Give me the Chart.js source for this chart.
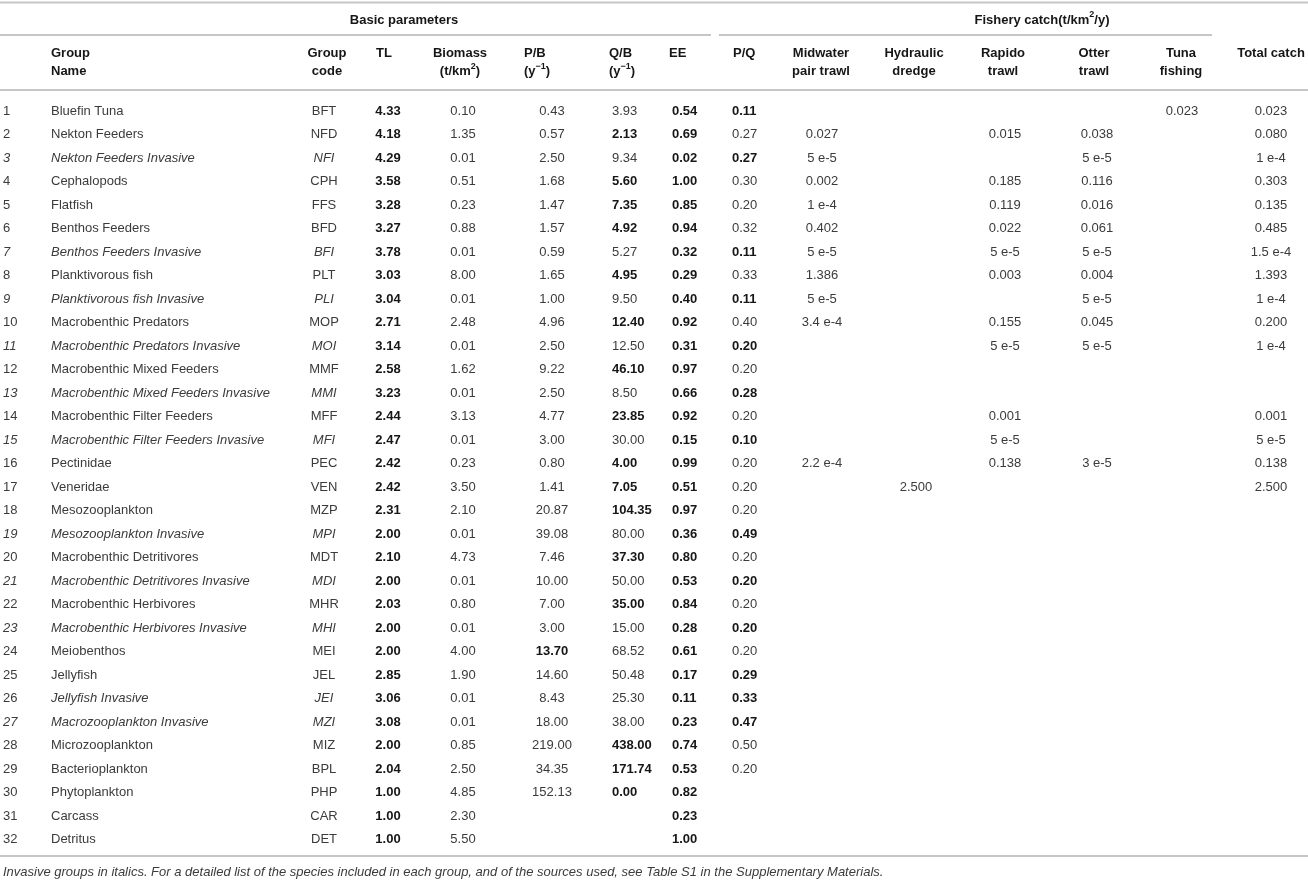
<!DOCTYPE html>
<html>
<head>
<meta charset="utf-8">
<script src="https://cdn.jsdelivr.net/npm/chart.js@4.4.1/dist/chart.umd.min.js"></script>
<style>
  html, body { margin: 0; padding: 0; background: #fff; }
  #wrap { width: 1308px; height: 882px; }
</style>
</head>
<body>
<div id="wrap"><canvas id="chart" width="1308" height="882"></canvas></div>
<script>
// ---- table data ----
const groupNames = [
  'Bluefin Tuna', 'Nekton Feeders', 'Nekton Feeders Invasive', 'Cephalopods', 'Flatfish',
  'Benthos Feeders', 'Benthos Feeders Invasive', 'Planktivorous fish', 'Planktivorous fish Invasive',
  'Macrobenthic Predators', 'Macrobenthic Predators Invasive', 'Macrobenthic Mixed Feeders',
  'Macrobenthic Mixed Feeders Invasive', 'Macrobenthic Filter Feeders', 'Macrobenthic Filter Feeders Invasive',
  'Pectinidae', 'Veneridae', 'Mesozooplankton', 'Mesozooplankton Invasive', 'Macrobenthic Detritivores',
  'Macrobenthic Detritivores Invasive', 'Macrobenthic Herbivores', 'Macrobenthic Herbivores Invasive',
  'Meiobenthos', 'Jellyfish', 'Jellyfish Invasive', 'Macrozooplankton Invasive', 'Microzooplankton',
  'Bacterioplankton', 'Phytoplankton', 'Carcass', 'Detritus'
];
const groupCodes = ['BFT', 'NFD', 'NFI', 'CPH', 'FFS', 'BFD', 'BFI', 'PLT', 'PLI', 'MOP', 'MOI', 'MMF',
  'MMI', 'MFF', 'MFI', 'PEC', 'VEN', 'MZP', 'MPI', 'MDT', 'MDI', 'MHR', 'MHI', 'MEI', 'JEL', 'JEI', 'MZI',
  'MIZ', 'BPL', 'PHP', 'CAR', 'DET'];
// group numbers of the invasive groups (set in italics)
const invasiveGroups = [3, 7, 9, 11, 13, 15, 19, 21, 23, 26, 27];

const trophicLevel = ['4.33', '4.18', '4.29', '3.58', '3.28', '3.27', '3.78', '3.03', '3.04', '2.71', '3.14',
  '2.58', '3.23', '2.44', '2.47', '2.42', '2.42', '2.31', '2.00', '2.10', '2.00', '2.03', '2.00', '2.00',
  '2.85', '3.06', '3.08', '2.00', '2.04', '1.00', '1.00', '1.00'];
const biomass = ['0.10', '1.35', '0.01', '0.51', '0.23', '0.88', '0.01', '8.00', '0.01', '2.48', '0.01',
  '1.62', '0.01', '3.13', '0.01', '0.23', '3.50', '2.10', '0.01', '4.73', '0.01', '0.80', '0.01', '4.00',
  '1.90', '0.01', '0.01', '0.85', '2.50', '4.85', '2.30', '5.50'];
const prodBiomass = ['0.43', '0.57', '2.50', '1.68', '1.47', '1.57', '0.59', '1.65', '1.00', '4.96', '2.50',
  '9.22', '2.50', '4.77', '3.00', '0.80', '1.41', '20.87', '39.08', '7.46', '10.00', '7.00', '3.00', '13.70',
  '14.60', '8.43', '18.00', '219.00', '34.35', '152.13', '', ''];
const consBiomass = ['3.93', '2.13', '9.34', '5.60', '7.35', '4.92', '5.27', '4.95', '9.50', '12.40', '12.50',
  '46.10', '8.50', '23.85', '30.00', '4.00', '7.05', '104.35', '80.00', '37.30', '50.00', '35.00', '15.00',
  '68.52', '50.48', '25.30', '38.00', '438.00', '171.74', '0.00', '', ''];
const ecotrophicEff = ['0.54', '0.69', '0.02', '1.00', '0.85', '0.94', '0.32', '0.29', '0.40', '0.92', '0.31',
  '0.97', '0.66', '0.92', '0.15', '0.99', '0.51', '0.97', '0.36', '0.80', '0.53', '0.84', '0.28', '0.61',
  '0.17', '0.11', '0.23', '0.74', '0.53', '0.82', '0.23', '1.00'];
const prodCons = ['0.11', '0.27', '0.27', '0.30', '0.20', '0.32', '0.11', '0.33', '0.11', '0.40', '0.20',
  '0.20', '0.28', '0.20', '0.10', '0.20', '0.20', '0.20', '0.49', '0.20', '0.20', '0.20', '0.20', '0.20',
  '0.29', '0.33', '0.47', '0.50', '0.20', '', '', ''];
// group numbers whose value was estimated by the model (printed bold)
const pbEstimated = [24];
const qbEstimated = [2, 4, 5, 6, 8, 10, 12, 14, 16, 17, 18, 20, 22, 28, 29, 30];
const pqEstimated = [1, 3, 7, 9, 11, 13, 15, 19, 21, 23, 25, 26, 27];

// fishery catch (t/km2/y), one entry per group
const midwaterTrawl = ['', '0.027', '5 e-5', '0.002', '1 e-4', '0.402', '5 e-5', '1.386', '5 e-5', '3.4 e-4',
  '', '', '', '', '', '2.2 e-4', '', '', '', '', '', '', '', '', '', '', '', '', '', '', '', ''];
const hydraulicDredge = ['', '', '', '', '', '', '', '', '', '', '', '', '', '', '', '', '2.500',
  '', '', '', '', '', '', '', '', '', '', '', '', '', '', ''];
const rapidoTrawl = ['', '0.015', '', '0.185', '0.119', '0.022', '5 e-5', '0.003', '', '0.155', '5 e-5',
  '', '', '0.001', '5 e-5', '0.138', '', '', '', '', '', '', '', '', '', '', '', '', '', '', '', ''];
const otterTrawl = ['', '0.038', '5 e-5', '0.116', '0.016', '0.061', '5 e-5', '0.004', '5 e-5', '0.045',
  '5 e-5', '', '', '', '', '3 e-5', '', '', '', '', '', '', '', '', '', '', '', '', '', '', '', ''];
const tunaFishing = ['0.023', '', '', '', '', '', '', '', '', '', '', '', '', '', '', '', '',
  '', '', '', '', '', '', '', '', '', '', '', '', '', '', ''];
const totalCatch = ['0.023', '0.080', '1 e-4', '0.303', '0.135', '0.485', '1.5 e-4', '1.393', '1 e-4', '0.200',
  '1 e-4', '', '', '0.001', '5 e-5', '0.138', '2.500', '', '', '', '', '', '', '', '', '', '', '', '', '', '', ''];

const caption = 'Invasive groups in italics. For a detailed list of the species included in each group, ' +
  'and of the sources used, see Table S1 in the Supplementary Materials.';

// ---- layout (x in canvas px, y in row units) ----
const FAMILY = "'Liberation Sans', Arial, Helvetica, sans-serif";
const TEXT = '#3b3b3b';
const BOLD_TEXT = '#161616';
const RULE = '#c6c6c6';
const Y_MIN = -3.72, Y_MAX = 33.81;
const HEAD1 = -1.43, HEAD2 = -0.66, GROUP_HEAD = -2.87;
const RULE_TOP = -3.61, RULE_GROUP = -2.23, RULE_HEAD = 0.11, RULE_BOTTOM = 32.70, CAPTION_ROW = 33.40;

const groupNos = groupNames.map((_, i) => String(i + 1));
const isInv = i => invasiveGroups.includes(i + 1) && i + 1 !== 26;

const columns = [
  { values: groupNos, x: 3, align: 'left', italic: i => isInv(i) },
  { values: groupNames, x: 51, align: 'left', italic: i => invasiveGroups.includes(i + 1),
    head: ['Group', 'Name'], hx: 51, halign: 'left' },
  { values: groupCodes, x: 324, align: 'center', italic: i => invasiveGroups.includes(i + 1),
    head: ['Group', 'code'], hx: 327 },
  { values: trophicLevel, x: 388, align: 'center', bold: () => true, head: ['TL'], hx: 384 },
  { values: biomass, x: 463, align: 'center', head: ['Biomass', '(t/km^2^)'], hx: 460 },
  { values: prodBiomass, x: 552, align: 'center', bold: i => pbEstimated.includes(i + 1),
    head: ['P/B', '(y^\u22121^)'], hx: 524, halign: 'left' },
  { values: consBiomass, x: 612, align: 'left', bold: i => qbEstimated.includes(i + 1),
    head: ['Q/B', '(y^\u22121^)'], hx: 609, halign: 'left' },
  { values: ecotrophicEff, x: 672, align: 'left', bold: () => true, head: ['EE'], hx: 669, halign: 'left' },
  { values: prodCons, x: 732, align: 'left', bold: i => pqEstimated.includes(i + 1),
    head: ['P/Q'], hx: 733, halign: 'left' },
  { values: midwaterTrawl, x: 822, align: 'center', head: ['Midwater', 'pair trawl'], hx: 821 },
  { values: hydraulicDredge, x: 916, align: 'center', head: ['Hydraulic', 'dredge'], hx: 914 },
  { values: rapidoTrawl, x: 1005, align: 'center', head: ['Rapido', 'trawl'], hx: 1003 },
  { values: otterTrawl, x: 1097, align: 'center', head: ['Otter', 'trawl'], hx: 1094 },
  { values: tunaFishing, x: 1182, align: 'center', head: ['Tuna', 'fishing'], hx: 1181 },
  { values: totalCatch, x: 1271, align: 'center', head: ['Total catch'], hx: 1271 }
];

function cellStyle(bold, italic, size) {
  return { bold: !!bold, italic: !!italic, size: size || 13, color: bold ? BOLD_TEXT : TEXT };
}

const datasets = [];

// body cells: one dataset per column
columns.forEach(col => {
  const pts = [], cells = [];
  col.values.forEach((v, i) => {
    if (v === '') return;
    pts.push({ x: col.x, y: i + 1 });
    cells.push(Object.assign({ text: v, align: col.align },
      cellStyle(col.bold && col.bold(i), col.italic && col.italic(i))));
  });
  datasets.push({ data: pts, cells: cells, pointRadius: 0 });
});

// column headers
columns.forEach(col => {
  if (!col.head) return;
  const pts = [], cells = [];
  col.head.forEach((line, k) => {
    pts.push({ x: col.hx, y: k === 0 ? HEAD1 : HEAD2 });
    cells.push(Object.assign({ text: line, align: col.halign || 'center' }, cellStyle(true, false)));
  });
  datasets.push({ data: pts, cells: cells, pointRadius: 0 });
});

// spanning headers and caption
datasets.push({
  data: [{ x: 404, y: GROUP_HEAD }, { x: 1042, y: GROUP_HEAD }, { x: 3, y: CAPTION_ROW }],
  cells: [
    Object.assign({ text: 'Basic parameters', align: 'center' }, cellStyle(true, false)),
    Object.assign({ text: 'Fishery catch(t/km^2^/y)', align: 'center' }, cellStyle(true, false)),
    Object.assign({ text: caption, align: 'left' }, cellStyle(false, true, 13))
  ],
  pointRadius: 0
});

// horizontal rules
function rule(x0, x1, y) {
  return { data: [{ x: x0, y: y }, { x: x1, y: y }], showLine: true, borderColor: RULE,
    borderWidth: 2, pointRadius: 0, clip: false };
}
datasets.push(rule(0, 1308, RULE_TOP));
datasets.push(rule(0, 711, RULE_GROUP));
datasets.push(rule(719, 1212, RULE_GROUP));
datasets.push(rule(0, 1308, RULE_HEAD));
datasets.push(rule(0, 1308, RULE_BOTTOM));

// draw text of every cell at its point position; ^...^ marks superscript
function fontOf(c, size) {
  return (c.italic ? 'italic ' : '') + (c.bold ? 'bold ' : '') + size + 'px ' + FAMILY;
}
const cellText = {
  id: 'cellText',
  afterDatasetsDraw(chart) {
    const ctx = chart.ctx;
    ctx.save();
    ctx.textBaseline = 'middle';
    ctx.textAlign = 'left';
    chart.data.datasets.forEach((ds, di) => {
      if (!ds.cells) return;
      const meta = chart.getDatasetMeta(di);
      meta.data.forEach((el, i) => {
        const c = ds.cells[i];
        const parts = c.text.split('^');
        const widths = parts.map((p, k) => {
          ctx.font = fontOf(c, k % 2 ? Math.round(c.size * 0.7) : c.size);
          return ctx.measureText(p).width;
        });
        const total = widths.reduce((a, b) => a + b, 0);
        let sx = c.align === 'center' ? el.x - total / 2 : (c.align === 'right' ? el.x - total : el.x);
        ctx.fillStyle = c.color;
        parts.forEach((p, k) => {
          ctx.font = fontOf(c, k % 2 ? Math.round(c.size * 0.7) : c.size);
          ctx.fillText(p, sx, k % 2 ? el.y - 5 : el.y);
          sx += widths[k];
        });
      });
    });
    ctx.restore();
  }
};

new Chart(document.getElementById('chart'), {
  type: 'scatter',
  data: { datasets: datasets },
  options: {
    responsive: false,
    animation: false,
    events: [],
    layout: { padding: 0 },
    plugins: { legend: { display: false }, tooltip: { enabled: false } },
    scales: {
      x: { type: 'linear', min: 0, max: 1308, display: false },
      y: { type: 'linear', min: Y_MIN, max: Y_MAX, reverse: true, display: false }
    }
  },
  plugins: [cellText]
});
</script>
</body>
</html>
